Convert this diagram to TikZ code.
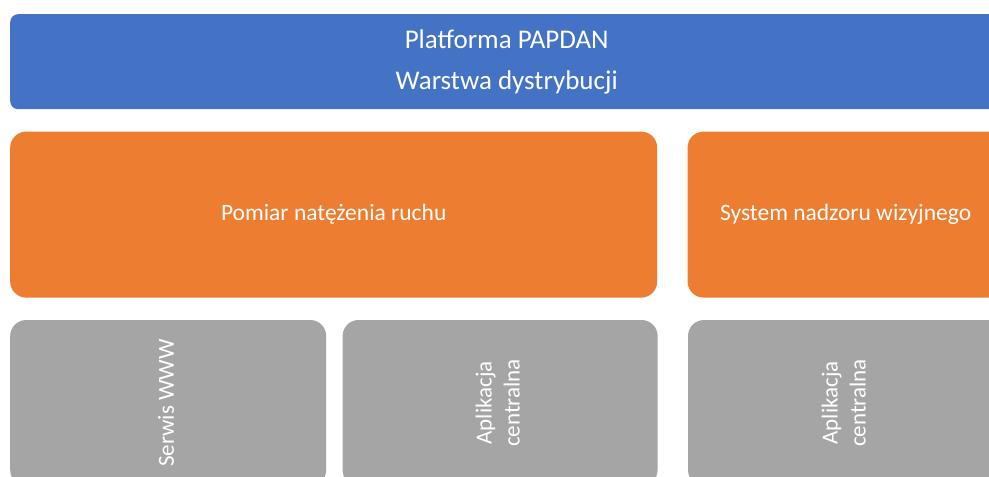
\documentclass[tikz,border=0pt]{standalone}
\usepackage{fontspec}
\setmainfont{Carlito}
\usetikzlibrary{positioning}
\definecolor{papdanblue}{HTML}{4472C4}
\definecolor{papdanorange}{HTML}{ED7D31}
\definecolor{papdangray}{HTML}{A5A5A5}
\newcommand{\vtext}[1]{\rotatebox{90}{\begin{tabular}{@{}c@{}}#1\end{tabular}}}

\begin{document}
\begin{tikzpicture}[x=1pt, y=-1pt,
    layer/.style={rectangle, inner sep=0pt, text=white, align=center},
    toplayer/.style={layer, fill=papdanblue, rounded corners=8pt, font=\fontsize{27}{41}\selectfont},
    system/.style={layer, fill=papdanorange, rounded corners=16pt, minimum height=166pt, font=\fontsize{23.5}{28}\selectfont},
    module/.style={layer, fill=papdangray, rounded corners=16pt, minimum height=166pt, font=\fontsize{23}{28}\selectfont}]
    \useasboundingbox (0,0) rectangle (989,477);
    \clip (0,0) rectangle (989,477);

    % Distribution layer
    \node (platform) at (10,14) [toplayer, anchor=north west, minimum width=993pt, minimum height=95pt]
        {Platforma PAPDAN\\Warstwa dystrybucji};

    % Systems
    \node (traffic) [below right=22pt and 0pt of platform.south west] [system, minimum width=647pt] {Pomiar natężenia ruchu};
    \node (vision) [right=30pt of traffic] [system, minimum width=316pt] {System nadzoru wizyjnego};

    % Modules
    \node (www) [below right=22pt and 0pt of traffic.south west] [module, minimum width=316pt] {\vtext{Serwis WWW}};
    \node (app a) [right=16pt of www] [module, minimum width=315pt] {\vtext{Aplikacja\\centralna}};
    \node (app b) [right=30pt of app a] [module, minimum width=316pt] {\vtext{Aplikacja\\centralna}};
\end{tikzpicture}
\end{document}
